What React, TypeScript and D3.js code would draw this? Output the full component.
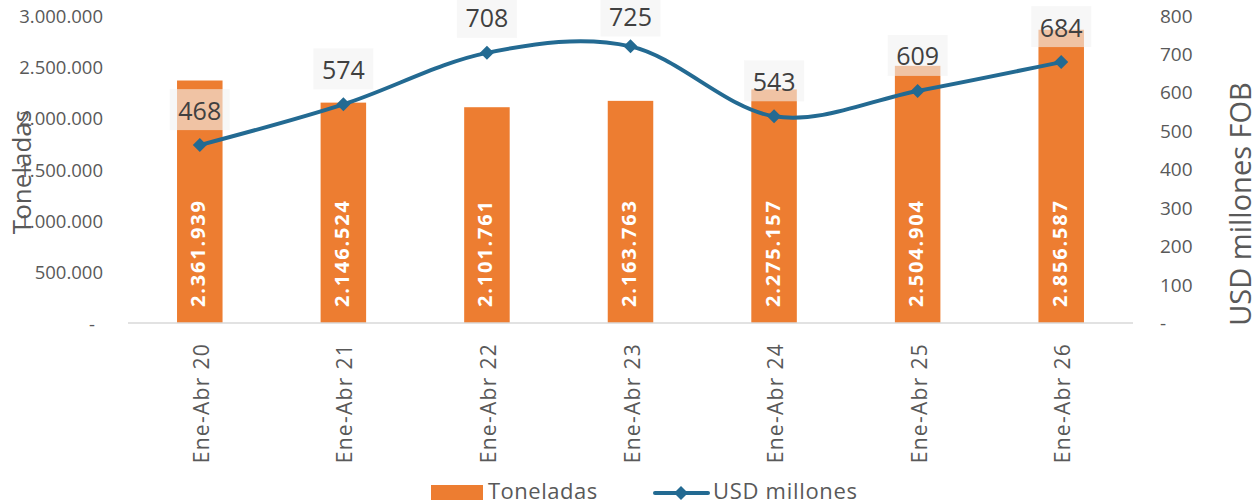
import React, { useEffect } from "react";
import * as d3 from "d3";

const categories = ["Ene-Abr 20", "Ene-Abr 21", "Ene-Abr 22", "Ene-Abr 23", "Ene-Abr 24", "Ene-Abr 25", "Ene-Abr 26"];
const toneladas = [2361939, 2146524, 2101761, 2163763, 2275157, 2504904, 2856587];
const usdMillones = [468, 574, 708, 725, 543, 609, 684];
const leftTicks = [0, 500000, 1000000, 1500000, 2000000, 2500000, 3000000];
const rightTicks = [0, 100, 200, 300, 400, 500, 600, 700, 800];

const W = 1257;
const H = 504;
const FONT = "'Open Sans', Lato, sans-serif";
const ORANGE = "#ED7D31";
const BLUE = "#236A92";
const GREY = "#595959";

const fmtThousands = (v: number) =>
  v === 0 ? "-" : d3.format(",")(v).replace(/,/g, ".");

export default function App() {
  useEffect(() => {
    document.body.style.margin = "0";
  }, []);

  const x = d3.scaleBand<string>().domain(categories).range([128, 1133]).paddingInner(0).paddingOuter(0);
  const yL = d3.scaleLinear().domain([0, 3000000]).range([323, 15]);
  const yR = d3.scaleLinear().domain([0, 800]).range([325, 17.5]);
  const barW = x.step() * 0.317;
  const cx = (c: string) => (x(c) as number) + x.bandwidth() / 2;

  const pts: [number, number][] = categories.map((c, i) => [cx(c), yR(usdMillones[i])]);
  const line = d3.line<[number, number]>().x((d) => d[0]).y((d) => d[1]).curve(d3.curveCardinal.tension(0));
  const diamond = (px: number, py: number, r = 7) =>
    `M${px},${py - r}L${px + r},${py}L${px},${py + r}L${px - r},${py}Z`;

  return (
    <svg width={W} height={H} style={{ position: "absolute", left: 0, top: 0, background: "#fff" }} fontFamily={FONT}>
      {/* bars */}
      {categories.map((c, i) => (
        <rect key={c} x={cx(c) - barW / 2} y={yL(toneladas[i])} width={barW} height={yL(0) - yL(toneladas[i])} fill={ORANGE} />
      ))}
      {/* baseline */}
      <line x1={128} x2={1133} y1={yL(0)} y2={yL(0)} stroke="#D9D9D9" strokeWidth={1.5} />
      {/* bar labels */}
      {categories.map((c, i) => (
        <text key={c} transform={`translate(${cx(c) - 2},${yL(0) - 16}) rotate(-90)`} fill="#fff" fontWeight={700} fontSize={20} letterSpacing={1.8} textAnchor="start" dominantBaseline="central">
          {fmtThousands(toneladas[i])}
        </text>
      ))}
      {/* left axis */}
      {leftTicks.map((t) => (
        <text key={t} x={t === 0 ? 95 : 103} y={yL(t)} fill={GREY} fontSize={18.5} textAnchor="end" dominantBaseline="central">
          {fmtThousands(t)}
        </text>
      ))}
      {/* right axis */}
      {rightTicks.map((t) => (
        <text key={t} x={1160} y={yR(t) - 2} fill={GREY} fontSize={19} textAnchor="start" dominantBaseline="central">
          {t === 0 ? "-" : String(t)}
        </text>
      ))}
      {/* category labels */}
      {categories.map((c) => (
        <text key={c} transform={`translate(${cx(c) + 1},343) rotate(-90)`} fill={GREY} fontSize={21} letterSpacing={1.3} textAnchor="end" dominantBaseline="central">
          {c}
        </text>
      ))}
      {/* axis titles */}
      <text transform="translate(21,172) rotate(-90)" fill={GREY} fontSize={26} textAnchor="middle" dominantBaseline="central">
        Toneladas
      </text>
      <text transform="translate(1239,204) rotate(-90)" fill={GREY} fontSize={29} textAnchor="middle" dominantBaseline="central">
        USD millones FOB
      </text>
      {/* line */}
      <path d={line(pts) || ""} fill="none" stroke={BLUE} strokeWidth={4} />
      {pts.map((p, i) => (
        <path key={i} d={diamond(p[0], p[1])} fill={BLUE} />
      ))}
      {/* line labels */}
      {pts.map((p, i) => {
        const cy = Math.max(p[1] - 35.5, 16);
        return (
          <g key={i}>
            <rect x={p[0] - 30} y={cy - 20.5} width={60} height={41} fill="#F2F2F2" fillOpacity={0.6} />
            <text x={p[0]} y={cy} fill="#404040" fontSize={25} textAnchor="middle" dominantBaseline="central">
              {usdMillones[i]}
            </text>
          </g>
        );
      })}
      {/* legend */}
      <rect x={431} y={485} width={52} height={15} fill={ORANGE} />
      <text x={488} y={490} fill={GREY} fontSize={22} letterSpacing={0.5} dominantBaseline="central">Toneladas</text>
      <line x1={655} x2={708} y1={493} y2={493} stroke={BLUE} strokeWidth={4} strokeLinecap="round" />
      <path d={diamond(681, 493)} fill={BLUE} />
      <text x={713} y={490} fill={GREY} fontSize={22} letterSpacing={0.7} dominantBaseline="central">USD millones</text>
    </svg>
  );
}
